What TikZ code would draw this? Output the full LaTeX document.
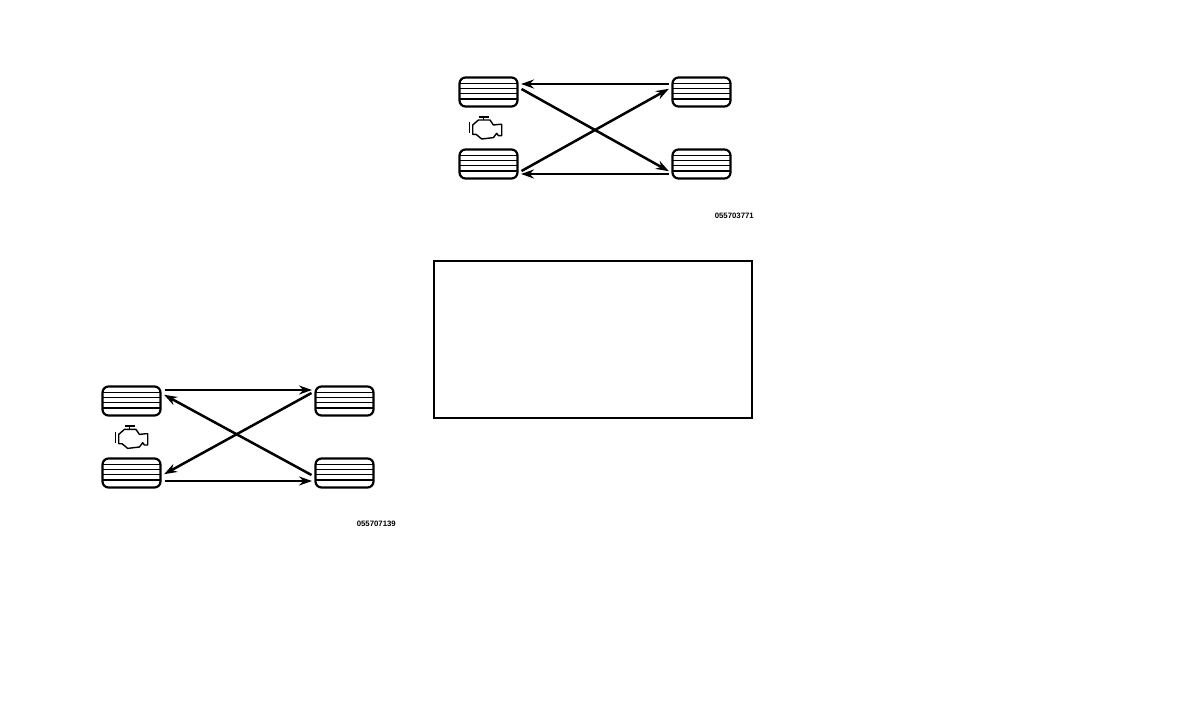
\documentclass[tikz,border=0pt]{standalone}
\usepackage{fontspec}
\setmainfont{Liberation Sans}
\usetikzlibrary{arrows.meta,positioning}

\begin{document}
\begin{tikzpicture}[
    x=1pt, y=-1pt,
    tyre/.style={draw, line width=2.2pt, rounded corners=6pt, minimum width=58pt, minimum height=29pt, outer sep=0pt, inner sep=0pt,
        path picture={
            \foreach \dy in {-8.5,-3.5,1.5,7}
                \draw[line width=1.3pt] ([yshift=-\dy pt]path picture bounding box.west) -- ([yshift=-\dy pt]path picture bounding box.east);
        }},
    arr/.style={-{Stealth[length=13pt, width=9pt]}, line width=2.5pt, shorten >=-0.5pt},
    lbl/.style={font=\fontsize{7.8}{9}\selectfont\bfseries, inner sep=0pt},
    engine/.pic={
        \draw[line width=1.4pt, line join=round] (-13,-2.3) -- (-7.3,-7.3) -- (4.3,-7.3) -- (7.7,-2.3) -- (14.3,-3) -- (16,-3) -- (16,8.3) -- (12.7,8.3) -- (11,6) -- (7.7,10.3) -- (-4,11.7) -- (-9.7,7) -- (-13,7) -- cycle;
        \draw[line width=1.2pt] (-16,-5) -- (-16,6);
        \draw[line width=1.8pt] (-7,-10.7) -- (3,-10.7);
        \draw[line width=1.4pt] (-2.3,-10.7) -- (-2.3,-7.3);
    }
]
\useasboundingbox (0,0) rectangle (1188,720);

% upper layout
\node[tyre] (lt) at (488.5,92) {};
\node[tyre] (rt) at (701.5,92) {};
\node[tyre] (lb) at (488.5,164) {};
\node[tyre] (rb) at (701.5,164) {};
\pic at (485.7,127.3) {engine};
\node[lbl, anchor=east] (code) at (754,215.5) {055703771};

\draw[arr] ([shift={(-4,-8)}]rt.west) -- ([shift={(4,-8)}]lt.east);
\draw[arr] ([shift={(-4,10)}]rb.west) -- ([shift={(4,10)}]lb.east);
\draw[arr] ([shift={(4,-3)}]lt.east) -- ([shift={(-4,7)}]rb.west);
\draw[arr] ([shift={(4,7)}]lb.east) -- ([shift={(-4,-3)}]rt.west);

% empty frame
\node[draw, line width=2pt, minimum width=318pt, minimum height=157pt, outer sep=0pt] (frame) at (592.8,339) {};

% lower layout
\node[tyre] (ltb) at (131.5,401) {};
\node[tyre] (rtb) at (344.5,401) {};
\node[tyre] (lbb) at (131.5,473) {};
\node[tyre] (rbb) at (344.5,473) {};
\pic at (131.7,436.7) {engine};
\node[lbl, anchor=east] (codeb) at (396,524) {055707139};

\draw[arr] ([shift={(4,-11)}]ltb.east) -- ([shift={(-4,-11)}]rtb.west);
\draw[arr] ([shift={(4,8)}]lbb.east) -- ([shift={(-4,8)}]rbb.west);
\draw[arr] ([shift={(-4,2)}]rbb.west) -- ([shift={(4,-6)}]ltb.east);
\draw[arr] ([shift={(-4,-8)}]rtb.west) -- ([shift={(4,1)}]lbb.east);
\end{tikzpicture}
\end{document}
